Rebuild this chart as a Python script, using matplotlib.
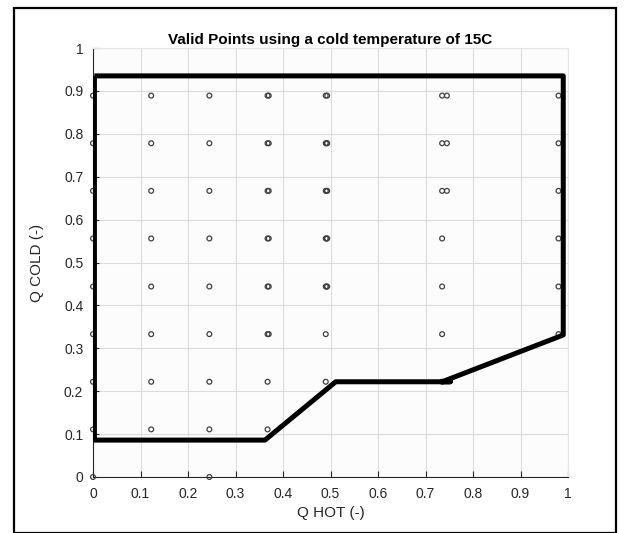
import matplotlib
matplotlib.use("Agg")
import matplotlib.pyplot as plt
from matplotlib.patches import Rectangle

plt.rcParams['font.family'] = ['Liberation Sans', 'DejaVu Sans']

# valid (Q HOT, Q COLD) points
q_hot = [0, 0, 0, 0, 0, 0, 0, 0, 0,
         0.1225, 0.1225, 0.1225, 0.1225, 0.1225, 0.1225, 0.1225, 0.1225,
         0.245, 0.245, 0.245, 0.245, 0.245, 0.245, 0.245, 0.245, 0.245,
         0.3675, 0.3675, 0.3675, 0.3675, 0.3675, 0.3675, 0.3675, 0.3675,
         0.370, 0.370, 0.370, 0.370, 0.370, 0.370,
         0.49, 0.49, 0.49, 0.49, 0.49, 0.49, 0.49,
         0.493, 0.493, 0.493, 0.493, 0.493, 0.492, 0.492, 0.492, 0.492,
         0.735, 0.735, 0.735, 0.735, 0.735, 0.735, 0.735,
         0.745, 0.745, 0.745,
         0.98, 0.98, 0.98, 0.98, 0.98, 0.98]
q_cold = [0, 0.111, 0.222, 0.333, 0.444, 0.556, 0.667, 0.778, 0.889,
          0.111, 0.222, 0.333, 0.444, 0.556, 0.667, 0.778, 0.889,
          0, 0.111, 0.222, 0.333, 0.444, 0.556, 0.667, 0.778, 0.889,
          0.111, 0.222, 0.333, 0.444, 0.556, 0.667, 0.778, 0.889,
          0.333, 0.444, 0.556, 0.667, 0.778, 0.889,
          0.222, 0.333, 0.444, 0.556, 0.667, 0.778, 0.889,
          0.444, 0.556, 0.667, 0.778, 0.889, 0.444, 0.556, 0.667, 0.778,
          0.222, 0.333, 0.444, 0.556, 0.667, 0.778, 0.889,
          0.667, 0.778, 0.889,
          0.333, 0.444, 0.556, 0.667, 0.778, 0.889]

# boundary of the valid region
edge_x = [0.003, 0.003, 0.362, 0.511, 0.752, 0.735, 0.990, 0.990, 0.003]
edge_y = [0.935, 0.086, 0.086, 0.222, 0.222, 0.222, 0.331, 0.935, 0.935]

fig = plt.figure(figsize=(6.3, 5.33), dpi=100)
fig.patches.append(Rectangle((14/630, 0), 602/630, 1 - 8/533, transform=fig.transFigure,
                             fill=False, edgecolor='black', linewidth=1.6))
ax = fig.add_axes([93/630, 1 - 477/533, 475/630, 429/533])
ax.set_facecolor('#fcfcfc')

ax.scatter(q_hot, q_cold, s=12, facecolors='none', edgecolors='#404040', linewidths=0.9, zorder=3, clip_on=False)
ax.plot(edge_x, edge_y, color='black', linewidth=3.6, zorder=4, solid_capstyle='butt')

ax.set_xlim(0, 1)
ax.set_ylim(0, 1)
ax.set_xticks([i / 10 for i in range(11)])
ax.set_yticks([i / 10 for i in range(11)])
ax.set_xticklabels(['0', '0.1', '0.2', '0.3', '0.4', '0.5', '0.6', '0.7', '0.8', '0.9', '1'])
ax.set_yticklabels(['0', '0.1', '0.2', '0.3', '0.4', '0.5', '0.6', '0.7', '0.8', '0.9', '1'])
ax.grid(True, color='#dcdcdc', linewidth=0.8)
ax.set_axisbelow(True)
ax.tick_params(direction='in', length=4, width=0.8, color='#262626', labelcolor='#262626', labelsize=10, pad=7)
for s in ['top', 'right']:
    ax.spines[s].set_color('#e6e6e6')
for s in ['left', 'bottom']:
    ax.spines[s].set_color('#262626')

ax.set_title('Valid Points using a cold temperature of 15C', fontsize=11, fontweight='bold', pad=3)
ax.set_xlabel('Q HOT (-)', fontsize=11, color='#262626', labelpad=4)
ax.set_ylabel('Q COLD (-)', fontsize=11, color='#262626', labelpad=14)

fig.savefig('out.png', dpi=100)
